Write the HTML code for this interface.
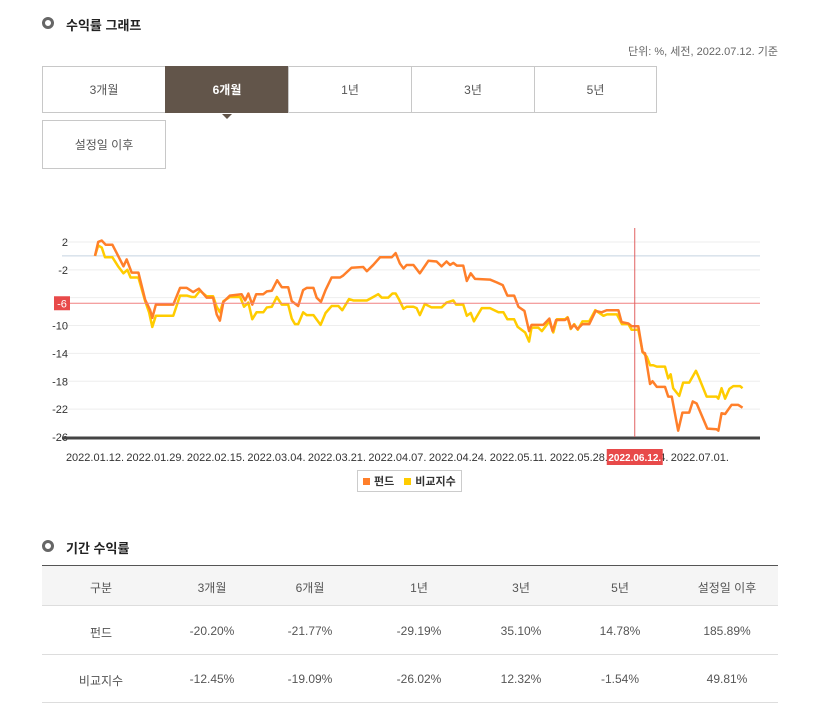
<!DOCTYPE html>
<html><head><meta charset="utf-8"><style>
body{margin:0;width:838px;height:714px;background:#fff;font-family:"Liberation Sans","Noto Sans CJK KR",sans-serif;position:relative;overflow:hidden;color:#333}
.abs{position:absolute}
.title{font-size:13px;font-weight:bold;color:#222}
.bullet{width:6px;height:6px;border:3px solid #666;border-radius:50%}
.tab{position:absolute;height:47px;border:1px solid #c8c8c8;box-sizing:border-box;font-size:12px;color:#555;display:flex;align-items:center;justify-content:center;background:#fff}
.tab.on{background:#62554a;color:#fff;font-weight:bold;border-color:#62554a}
.cell{position:absolute;font-size:12px;color:#555;transform:translateX(-50%);white-space:nowrap}
</style></head><body>
<div class="abs bullet" style="left:42px;top:17px"></div>
<div class="abs title" style="left:66px;top:15px">수익률 그래프</div>
<div class="abs" style="right:60px;top:43px;font-size:11px;color:#666">단위: %, 세전, 2022.07.12. 기준</div>

<div class="tab" style="left:42px;top:66px;width:124px">3개월</div>
<div class="tab on" style="left:165px;top:66px;width:124px">6개월</div>
<div class="abs" style="left:222px;top:114px;width:0;height:0;border-left:5px solid transparent;border-right:5px solid transparent;border-top:5px solid #62554a"></div>
<div class="tab" style="left:288px;top:66px;width:124px">1년</div>
<div class="tab" style="left:411px;top:66px;width:124px">3년</div>
<div class="tab" style="left:534px;top:66px;width:123px">5년</div>
<div class="tab" style="left:42px;top:120px;width:124px;height:49px">설정일 이후</div>

<svg class="abs" style="left:0;top:0" width="838" height="500" id="chart"></svg>

<div class="abs" style="left:357px;top:470px;width:105px;height:22px;border:1px solid #ccc;box-sizing:border-box;font-size:11px;font-weight:bold;color:#333;display:flex;align-items:center;padding-left:5px;gap:4px">
<span style="display:flex;align-items:center;gap:4px"><i style="width:7px;height:7px;background:#ff7f2a;display:inline-block"></i>펀드</span>
<span style="display:flex;align-items:center;gap:4px;margin-left:6px"><i style="width:7px;height:7px;background:#ffcc00;display:inline-block"></i>비교지수</span>
</div>

<div class="abs bullet" style="left:42px;top:540px"></div>
<div class="abs title" style="left:66px;top:538px">기간 수익률</div>

<div class="abs" style="left:42px;top:565px;width:736px;height:138px">
<div class="abs" style="left:0;top:0;width:736px;height:41px;background:#f5f5f5;border-top:1px solid #555;border-bottom:1px solid #ddd;box-sizing:border-box"></div>
<div class="abs" style="left:0;top:89px;width:736px;height:1px;background:#ddd"></div>
<div class="abs" style="left:0;top:137px;width:736px;height:1px;background:#ddd"></div>
</div>
<div id="tbl"></div>

<script>
// chart data
const fundDays=[0,0.9,1.9,3.0,4.9,6.1,8.0,8.9,10.3,12.2,14.1,15.5,16.1,17.1,22.0,23.9,25.8,27.6,29.2,31.4,33.2,34.2,35.1,36.1,37.9,41.2,42.2,43.1,44.2,45.3,47.3,48.3,49.7,51.2,52.5,54.3,55.3,57.1,58.5,59.5,61.4,62.3,63.5,64.8,66.5,68.9,69.8,72.1,75.4,76.4,78.2,80.1,83.4,84.5,85.7,86.7,87.6,89.5,91.3,93.7,96.0,97.4,98.8,99.8,100.7,101.7,103.5,104.5,105.6,106.8,111.0,112.9,114.6,115.9,117.8,119.0,120.7,122.0,122.7,126.0,127.7,128.6,129.6,132.1,132.9,133.8,134.6,135.6,137.0,138.9,140.7,142.4,143.8,147.1,148.0,149.9,150.8,152.7,153.9,154.6,156.0,156.7,157.9,160.2,161.1,162.1,163.9,165.1,167.0,168.0,169.1,172.1,174.7,175.2,176.1,177.1,178.9,180.8,182.0];
const fundValues=[0,2.0,2.2,1.6,1.6,0.4,-1.5,-0.5,-2.4,-2.4,-6.3,-7.8,-8.9,-7,-7,-4.6,-4.6,-5.2,-4.7,-6.0,-6,-8.4,-9.3,-6.6,-5.7,-5.5,-6.4,-5.4,-7,-5.5,-5.5,-5.1,-5,-3.5,-4.5,-4.5,-6.5,-7.2,-4.9,-4.6,-4.6,-6,-6.6,-4.9,-3.1,-3.1,-2.8,-1.7,-1.6,-2.2,-1.3,-0.2,-0.2,0.4,-1.1,-1.8,-1.3,-1.3,-2.5,-0.7,-0.8,-1.5,-0.8,-1.3,-1,-1.4,-1.4,-3.6,-2.5,-3.3,-3.4,-3.8,-4.2,-5.7,-5.7,-7.3,-7.9,-10.8,-9.9,-9.9,-9,-10.8,-9.2,-9.2,-8.9,-10.4,-9.9,-10.5,-9.8,-9.8,-7.9,-8.1,-7.8,-7.8,-9.5,-9.7,-10.1,-10.1,-13.8,-14.0,-18.4,-18.0,-18.8,-18.8,-20.2,-20.2,-25.1,-22.5,-22.5,-20.9,-21.2,-24.8,-24.9,-25.1,-22.6,-22.7,-21.4,-21.4,-21.8];
const indexDays=[0,0.9,1.9,2.8,4.9,6.5,8.0,9.1,10.0,12.2,14.1,15.2,16.1,17.1,22.0,23.9,25.8,27.2,28.1,29.5,31.4,33.2,34.2,35.1,36.1,37.9,40.8,41.9,43.1,44.2,45.4,47.3,48.3,49.7,51.1,52.5,54.3,55.3,56.2,57.1,58.5,59.5,61.4,63.4,64.8,66.5,68.4,69.5,71.4,72.6,76.4,78.2,79.6,80.6,82.4,83.6,84.5,85.4,86.7,87.6,89.5,90.4,91.3,92.7,94.6,97.4,98.8,100.7,101.5,103.5,104.5,105.6,106.5,108.7,111.0,113.4,114.8,115.9,117.8,118.8,120.9,122.0,122.7,124.6,125.6,127.7,128.8,129.8,132.1,132.8,133.7,134.7,135.7,137.0,138.9,140.6,142.9,143.9,146.7,148.1,149.9,150.8,152.7,153.9,155.1,156.0,156.9,157.9,160.2,161.1,161.8,162.5,164.2,165.3,167.0,168.9,169.6,171.9,174.7,175.2,176.1,177.1,178.3,179.4,181.3,182.0];
const indexValues=[0,1.5,1.2,-0.2,-0.2,-1.5,-2.5,-2,-3.1,-3.1,-6.5,-8.1,-10.2,-8.6,-8.6,-5.7,-5.7,-5.9,-5.9,-5,-5.8,-5.8,-7.3,-8.1,-6.5,-5.9,-5.9,-7.3,-6.7,-9.1,-8.1,-8.1,-7.4,-7.3,-5.9,-7,-7,-9,-9.8,-9.8,-8.1,-8.5,-8.5,-9.9,-8.2,-7.2,-7.2,-7.8,-6.2,-6.4,-6.4,-5.9,-5.5,-6,-6,-5.4,-5.4,-6.2,-7.6,-7.3,-7.3,-7.5,-8.5,-6.9,-7.4,-7.4,-6.7,-6.4,-7,-7,-8.6,-8.2,-9.4,-7.5,-7.5,-8.1,-8.1,-9.1,-9.1,-10.2,-11,-12.3,-10.3,-10.3,-10.8,-9.4,-11,-9.1,-9.1,-8.8,-10.5,-9.8,-10.6,-9.4,-9.4,-7.8,-8.6,-8.4,-8.4,-9.8,-9.8,-10.6,-10.6,-13.8,-14.5,-15.7,-15.7,-15.9,-15.9,-17.6,-17.0,-19.0,-20.1,-18.2,-18.2,-16.5,-17.3,-20.2,-20.2,-20.5,-19,-20.5,-19.1,-18.7,-18.7,-19];
const yTicks=[2,-2,-6,-10,-14,-18,-22,-26];
const xTickDays=[0,17,34,51,68,85,102,119,136,153,170];
const xTickLabels=["2022.01.12.","2022.01.29.","2022.02.15.","2022.03.04.","2022.03.21.","2022.04.07.","2022.04.24.","2022.05.11.","2022.05.28.","2022.06.14.","2022.07.01."];
const crossValue=-6.8, crossDay=151.7, crossLabel="2022.06.12.";

const NS="http://www.w3.org/2000/svg";
const svg=document.getElementById('chart');
const X0=62,X1=760;
const x=d=>95+d*3.558;
const y=v=>255.9-v*6.964;
function mk(tag,attrs,parent){const e=document.createElementNS(NS,tag);for(const k in attrs)e.setAttribute(k,attrs[k]);(parent||svg).appendChild(e);return e;}
yTicks.forEach(t=>{
  if(t!==-26){const g=mk('line',{x1:X0,x2:X1,y1:y(t),y2:y(t),stroke:'#eeeeee','stroke-width':1});
  
  }
  if(t!==-6){const tx=mk('text',{x:68,y:y(t)+4,'text-anchor':'end','font-size':11,fill:'#333'});tx.textContent=t;
  
  }
});
const zl=mk('line',{x1:X0,x2:X1,y1:y(0),y2:y(0),stroke:'#c5d3e0','stroke-width':1});


const ax=mk('line',{x1:X0,x2:X1,y1:y(-26)+1,y2:y(-26)+1,stroke:'#444','stroke-width':3});


xTickDays.forEach((d,i)=>{const t=mk('text',{x:x(d),y:461,'text-anchor':'middle','font-size':11,fill:'#333'});t.textContent=xTickLabels[i];

});
function line(days,vals,color,name){
  const p=mk('polyline',{points:days.map((d,i)=>x(d)+','+y(vals[i])).join(' '),fill:'none',stroke:color,'stroke-width':2.5,'stroke-linejoin':'round'});
  
  
}
line(indexDays,indexValues,'#ffcc00','index-line');
line(fundDays,fundValues,'#ff7f2a','fund-line');
// crosshair
const ch=mk('line',{x1:X0,x2:X1,y1:y(crossValue),y2:y(crossValue),stroke:'#f08080','stroke-width':1});


const cv=mk('line',{x1:x(crossDay),x2:x(crossDay),y1:228,y2:y(-26),stroke:'#e06060','stroke-width':1});


const yb=mk('rect',{x:54,y:y(crossValue)-7,width:16,height:14,fill:'#e84a4a'});


const yt=mk('text',{x:62,y:y(crossValue)+4,'text-anchor':'middle','font-size':11,fill:'#fff'});yt.textContent='-6';


const xb=mk('rect',{x:x(crossDay)-28,y:449,width:56,height:16,fill:'#e84a4a'});


const xt=mk('text',{x:x(crossDay),y:461,'text-anchor':'middle','font-size':10,'font-weight':'bold',fill:'#fff'});xt.textContent=crossLabel;



// table
const cols=[101,212,310,419,521,620,727];
const rows=[["구분","3개월","6개월","1년","3년","5년","설정일 이후"],["펀드","-20.20%","-21.77%","-29.19%","35.10%","14.78%","185.89%"],["비교지수","-12.45%","-19.09%","-26.02%","12.32%","-1.54%","49.81%"]];
const rowY=[579,624,672];
const tbl=document.getElementById('tbl');
rows.forEach((r,ri)=>r.forEach((c,ci)=>{const d=document.createElement('div');d.className='cell';d.style.left=cols[ci]+'px';d.style.top=rowY[ri]+'px';d.textContent=c;


tbl.appendChild(d);}));
</script>
</body></html>
